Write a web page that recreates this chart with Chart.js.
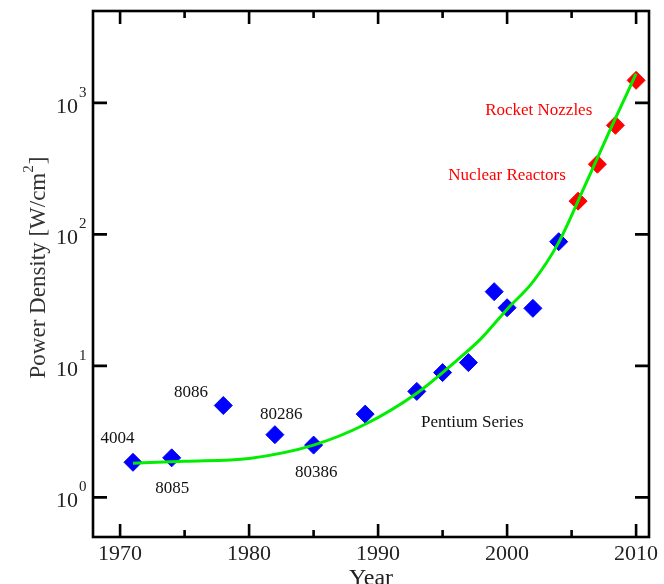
<!DOCTYPE html>
<html>
<head>
<meta charset="utf-8">
<script src="https://cdn.jsdelivr.net/npm/chart.js@4.4.0/dist/chart.umd.min.js"></script>
<style>
  html, body { margin: 0; padding: 0; background: #fff; }
  canvas { display: block; }
</style>
</head>
<body>
<canvas id="powerChart" width="664" height="584"></canvas>
<script>
// Data
// ::::: Intel CPUs (blue diamonds) :::::
const cpuYears = [1971, 1974, 1978, 1982, 1985, 1989, 1993, 1995, 1997, 1999, 2000, 2002, 2004];
const cpuPower = [1.85, 2.0, 5.0, 3.0, 2.5, 4.3, 6.4, 8.9, 10.6, 36.7, 27.7, 27.4, 88];
// ::::: Extrapolated (red diamonds) :::::
const hotYears = [2005.5, 2007, 2008.4, 2010];
const hotPower = [179, 342, 676, 1485];
// ::::: Trend curve (green) :::::
const fitYears = [1971, 1975, 1980, 1985, 1989, 1993, 1996, 1998, 2000, 2002, 2004, 2006, 2008, 2010];
const fitPower = [1.82, 1.88, 1.98, 2.5, 3.6, 6.2, 10.8, 16.2, 27, 43.6, 87, 231, 628, 1667];
// ::::: Axis ticks :::::
const yearMajor = [1970, 1980, 1990, 2000, 2010];
const yearMinor = [1975, 1985, 1995, 2005];
const powerExp = [0, 1, 2, 3];

// annotation texts, anchored in data units (year, W/cm2)
const notes = [
    { text: "4004", x: 1969.8, y: 2.78, color: "#111" },
    { text: "8085", x: 1974.05, y: 1.16, color: "#111" },
    { text: "8086", x: 1975.5, y: 6.29, color: "#111" },
    { text: "80286", x: 1982.5, y: 4.25, color: "#111" },
    { text: "80386", x: 1985.2, y: 1.55, color: "#111" },
    { text: "Pentium Series", x: 1997.3, y: 3.68, color: "#111" },
    { text: "Nuclear Reactors", x: 2000.0, y: 279, color: "#ff0000" },
    { text: "Rocket Nozzles", x: 2002.45, y: 868, color: "#ff0000" }
];

function toPoints(xs, ys) {
    return xs.map((x, i) => ({ x: x, y: ys[i] }));
}

const serif = "'Liberation Serif', 'Times New Roman', serif";

// draws the boxed frame, inward ticks, tick labels, titles and notes
const framePlugin = {
    id: "frame",
    afterDraw(chart) {
        const ctx = chart.ctx;
        const a = chart.chartArea;
        const xs = chart.scales.x;
        const ys = chart.scales.y;
        ctx.save();
        ctx.strokeStyle = "#000";
        ctx.lineWidth = 2.6;
        ctx.strokeRect(a.left, a.top, a.right - a.left, a.bottom - a.top);

        ctx.beginPath();
        yearMajor.forEach(v => {
            const px = xs.getPixelForValue(v);
            ctx.moveTo(px, a.bottom); ctx.lineTo(px, a.bottom - 13);
            ctx.moveTo(px, a.top); ctx.lineTo(px, a.top + 13);
        });
        yearMinor.forEach(v => {
            const px = xs.getPixelForValue(v);
            ctx.moveTo(px, a.bottom); ctx.lineTo(px, a.bottom - 7);
            ctx.moveTo(px, a.top); ctx.lineTo(px, a.top + 7);
        });
        powerExp.forEach(e => {
            const py = ys.getPixelForValue(Math.pow(10, e));
            ctx.moveTo(a.left, py); ctx.lineTo(a.left + 14, py);
            ctx.moveTo(a.right, py); ctx.lineTo(a.right - 14, py);
        });
        ctx.stroke();

        // x tick labels
        ctx.fillStyle = "#222";
        ctx.font = "22px " + serif;
        ctx.textAlign = "center";
        ctx.textBaseline = "middle";
        yearMajor.forEach(v => {
            ctx.fillText(String(v), xs.getPixelForValue(v), 554);
        });

        // y tick labels 10^n
        powerExp.forEach(e => {
            const py = ys.getPixelForValue(Math.pow(10, e));
            ctx.font = "22px " + serif;
            ctx.textAlign = "right";
            ctx.fillText("10", 78, py + 4);
            ctx.font = "15px " + serif;
            ctx.textAlign = "left";
            ctx.fillText(String(e), 79, py - 10);
        });

        // x title
        ctx.font = "24px " + serif;
        ctx.textAlign = "center";
        ctx.textBaseline = "alphabetic";
        ctx.fillText("Year", (a.left + a.right) / 2, 585);

        // y title, rotated
        ctx.save();
        ctx.translate(45, 268);
        ctx.rotate(-Math.PI / 2);
        ctx.fillStyle = "#333";
        ctx.font = "23px " + serif;
        const t1 = "Power Density [W/cm";
        const w1 = ctx.measureText(t1).width;
        ctx.font = "15px " + serif;
        const w2 = ctx.measureText("2").width;
        ctx.font = "23px " + serif;
        const w3 = ctx.measureText("]").width;
        let sx = -(w1 + w2 + w3) / 2;
        ctx.textAlign = "left";
        ctx.fillText(t1, sx, 0);
        ctx.font = "15px " + serif;
        ctx.fillText("2", sx + w1, -12);
        ctx.font = "23px " + serif;
        ctx.fillText("]", sx + w1 + w2 + 1, 0);
        ctx.restore();

        // notes
        ctx.font = "17px " + serif;
        ctx.textAlign = "center";
        ctx.textBaseline = "middle";
        notes.forEach(n => {
            ctx.fillStyle = n.color;
            ctx.fillText(n.text, xs.getPixelForValue(n.x), ys.getPixelForValue(n.y));
        });
        ctx.restore();
    }
};

const ctx = document.getElementById("powerChart");
const powerChart = new Chart(ctx, {
    type: "scatter",
    data: {
        datasets: [
            {
                type: "line",
                label: "Trend",
                data: toPoints(fitYears, fitPower),
                borderColor: "#00ee00",
                borderWidth: 3,
                pointRadius: 0,
                cubicInterpolationMode: "monotone",
                fill: false,
                order: 0
            },
            {
                label: "Intel CPUs",
                data: toPoints(cpuYears, cpuPower),
                pointStyle: "rectRot",
                pointRadius: 9,
                backgroundColor: "#0000ff",
                borderColor: "#0000ff",
                borderWidth: 1,
                order: 1
            },
            {
                label: "Hot surfaces",
                data: toPoints(hotYears, hotPower),
                pointStyle: "rectRot",
                pointRadius: 9,
                backgroundColor: "#ff0000",
                borderColor: "#ff0000",
                borderWidth: 1,
                order: 2
            }
        ]
    },
    options: {
        responsive: false,
        animation: false,
        layout: {
            padding: { left: 93, right: 15, top: 11, bottom: 47 }
        },
        scales: {
            x: {
                type: "linear",
                min: 1967.9,
                max: 2011,
                display: false
            },
            y: {
                type: "logarithmic",
                min: 0.5,
                max: 5000,
                display: false
            }
        },
        plugins: {
            legend: { display: false },
            tooltip: { enabled: false }
        }
    },
    plugins: [framePlugin]
});
</script>
</body>
</html>
